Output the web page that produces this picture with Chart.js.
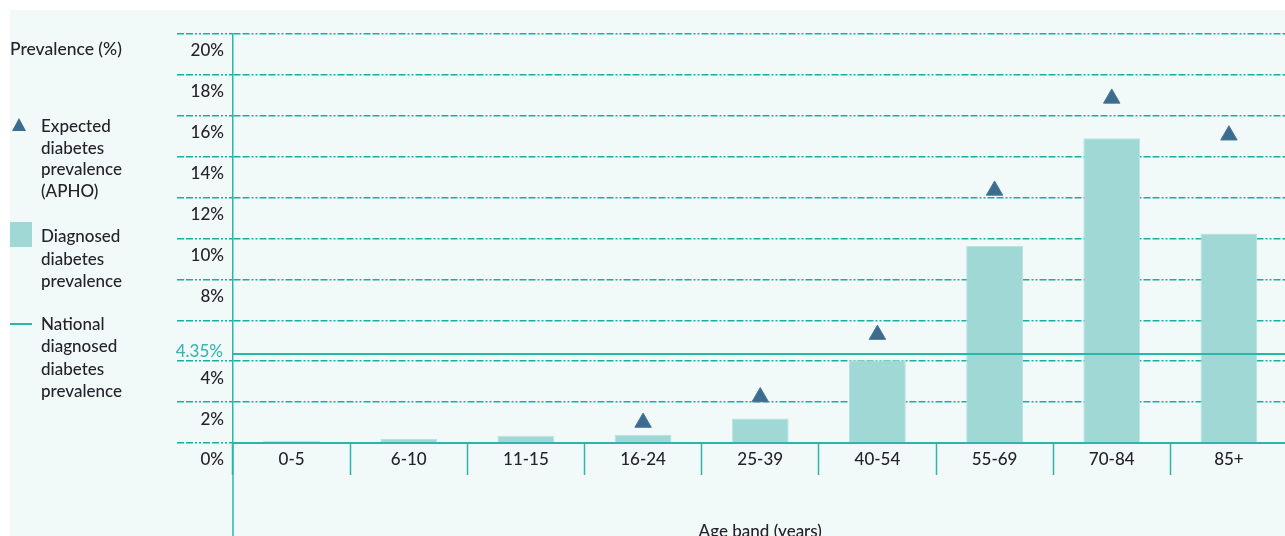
<!DOCTYPE html>
<html lang="en">
<head>
  <meta charset="UTF-8">
  <title>Diabetes prevalence by age band</title>
  <script src="https://cdn.jsdelivr.net/npm/chart.js"></script>
  <style>
    html, body { margin: 0; padding: 0; width: 1285px; height: 536px; overflow: hidden; background: #fff; }
    #bg { position: absolute; left: 10px; top: 10px; width: 1275px; height: 526px; background: #f2faf9; }
    #wrap { position: absolute; left: 0; top: 0; }
    .lg { position: absolute; font-family: Lato, sans-serif; font-weight: 500; font-size: 17px; color: #25222c; line-height: 22px; }
    .tri { position: absolute; left: 12px; top: 118px; width: 0; height: 0;
           border-left: 7.5px solid transparent; border-right: 7.5px solid transparent; border-bottom: 13px solid #3b6b8e; }
    .sq { position: absolute; left: 10px; top: 222px; width: 22px; height: 25px; background: #9fd8d4; }
    .ln { position: absolute; left: 10px; top: 323px; width: 22px; height: 2px; background: #2ab5ad; }
  </style>
</head>
<body>
  <div id="bg"></div>
  <div id="wrap"><canvas id="myChart" width="1298" height="536"></canvas></div>

  <div class="lg" style="left:10px; top:38px; font-size:17.5px;">Prevalence (%)</div>
  <div class="tri"></div>
  <div class="lg" style="left:41px; top:115px; line-height:21.5px;">Expected<br>diabetes<br>prevalence<br>(APHO)</div>
  <div class="sq"></div>
  <div class="lg" style="left:41px; top:225px; line-height:22.5px;">Diagnosed<br>diabetes<br>prevalence</div>
  <div class="ln"></div>
  <div class="lg" style="left:41px; top:313px; line-height:22.3px;">National<br>diagnosed<br>diabetes<br>prevalence</div>

  <script>
    // values (percent)
    const ageBands = ['0-5', '6-10', '11-15', '16-24', '25-39', '40-54', '55-69', '70-84', '85+'];
    const diagnosed = [0.1, 0.2, 0.35, 0.4, 1.2, 4.05, 9.65, 14.9, 10.25];
    const expected = [null, null, null, 1.0, 2.25, 5.3, 12.35, 16.85, 15.05];
    const nationalRate = 4.35;
    const yMin = 0, yMax = 20, yStep = 2;
    const hiddenTick = 6; // its label gives way to the national value

    const teal = '#2ab5ad';
    const gridTeal = '#17aea4';
    const textColor = '#25222c';
    const gridDash = [7, 2, 7, 2, 2, 2, 2, 2];
    const tickFont = { family: 'Lato', size: 17, weight: 500 };

    // national line across the plot, its label, and the y axis carried on below the x axis
    const nationalLine = {
      id: 'nationalLine',
      afterDatasetsDraw(chart) {
        const { ctx, chartArea, scales: { y } } = chart;
        const yPos = y.getPixelForValue(nationalRate);
        ctx.save();
        ctx.strokeStyle = teal;
        ctx.lineWidth = 2;
        ctx.beginPath();
        ctx.moveTo(chartArea.left, yPos);
        ctx.lineTo(chartArea.right, yPos);
        ctx.stroke();
        ctx.lineWidth = 1.5;
        ctx.beginPath();
        ctx.moveTo(chartArea.left, chartArea.bottom);
        ctx.lineTo(chartArea.left, chart.height);
        ctx.stroke();
        ctx.fillStyle = '#3db5ae';
        ctx.font = '500 17px Lato';
        ctx.textAlign = 'right';
        ctx.textBaseline = 'middle';
        ctx.fillText(nationalRate.toFixed(2) + '%', chartArea.left - 10, yPos - 3);
        ctx.restore();
      }
    };

    const ctx = document.getElementById('myChart').getContext('2d');
    new Chart(ctx, {
      type: 'bar',
      data: {
        labels: ageBands,
        datasets: [{
          type: 'line',
          label: 'Expected diabetes prevalence (APHO)',
          data: expected,
          showLine: false,
          pointStyle: 'triangle',
          pointRadius: 9.5,
          pointBackgroundColor: '#3b6b8e',
          pointBorderColor: '#4b7896',
          pointBorderWidth: 1,
          order: 0
        }, {
          label: 'Diagnosed diabetes prevalence',
          data: diagnosed,
          backgroundColor: '#9fd8d4',
          borderColor: '#b8e3e0',
          borderWidth: 1,
          barPercentage: 0.485,
          categoryPercentage: 1,
          order: 1
        }]
      },
      options: {
        responsive: false,
        animation: false,
        layout: { padding: { top: 34, left: 0, right: 0, bottom: 0 } },
        plugins: { legend: { display: false }, tooltip: { enabled: false } },
        scales: {
          x: {
            grid: { drawOnChartArea: false, tickLength: 32, tickColor: teal, tickWidth: 1.5, color: teal },
            border: { color: teal, width: 2 },
            ticks: { color: textColor, font: tickFont, padding: -26, maxRotation: 0, autoSkip: false },
            title: {
              display: true,
              text: 'Age band (years)',
              color: textColor,
              font: tickFont,
              padding: { top: 0, bottom: -6 }
            },
            afterFit(scale) { scale.height = 93; }
          },
          y: {
            min: yMin,
            max: yMax,
            ticks: {
              stepSize: yStep,
              color: textColor,
              font: tickFont,
              padding: -47,
              labelOffset: 17,
              callback: v => v === hiddenTick ? '' : v + '%'
            },
            grid: { color: gridTeal, lineWidth: 1.5, tickLength: 56, tickColor: gridTeal, tickBorderDash: gridDash },
            border: { color: teal, width: 1.5, dash: gridDash },
            afterFit(scale) { scale.width = 233; }
          }
        }
      },
      plugins: [nationalLine]
    });
  </script>
</body>
</html>
